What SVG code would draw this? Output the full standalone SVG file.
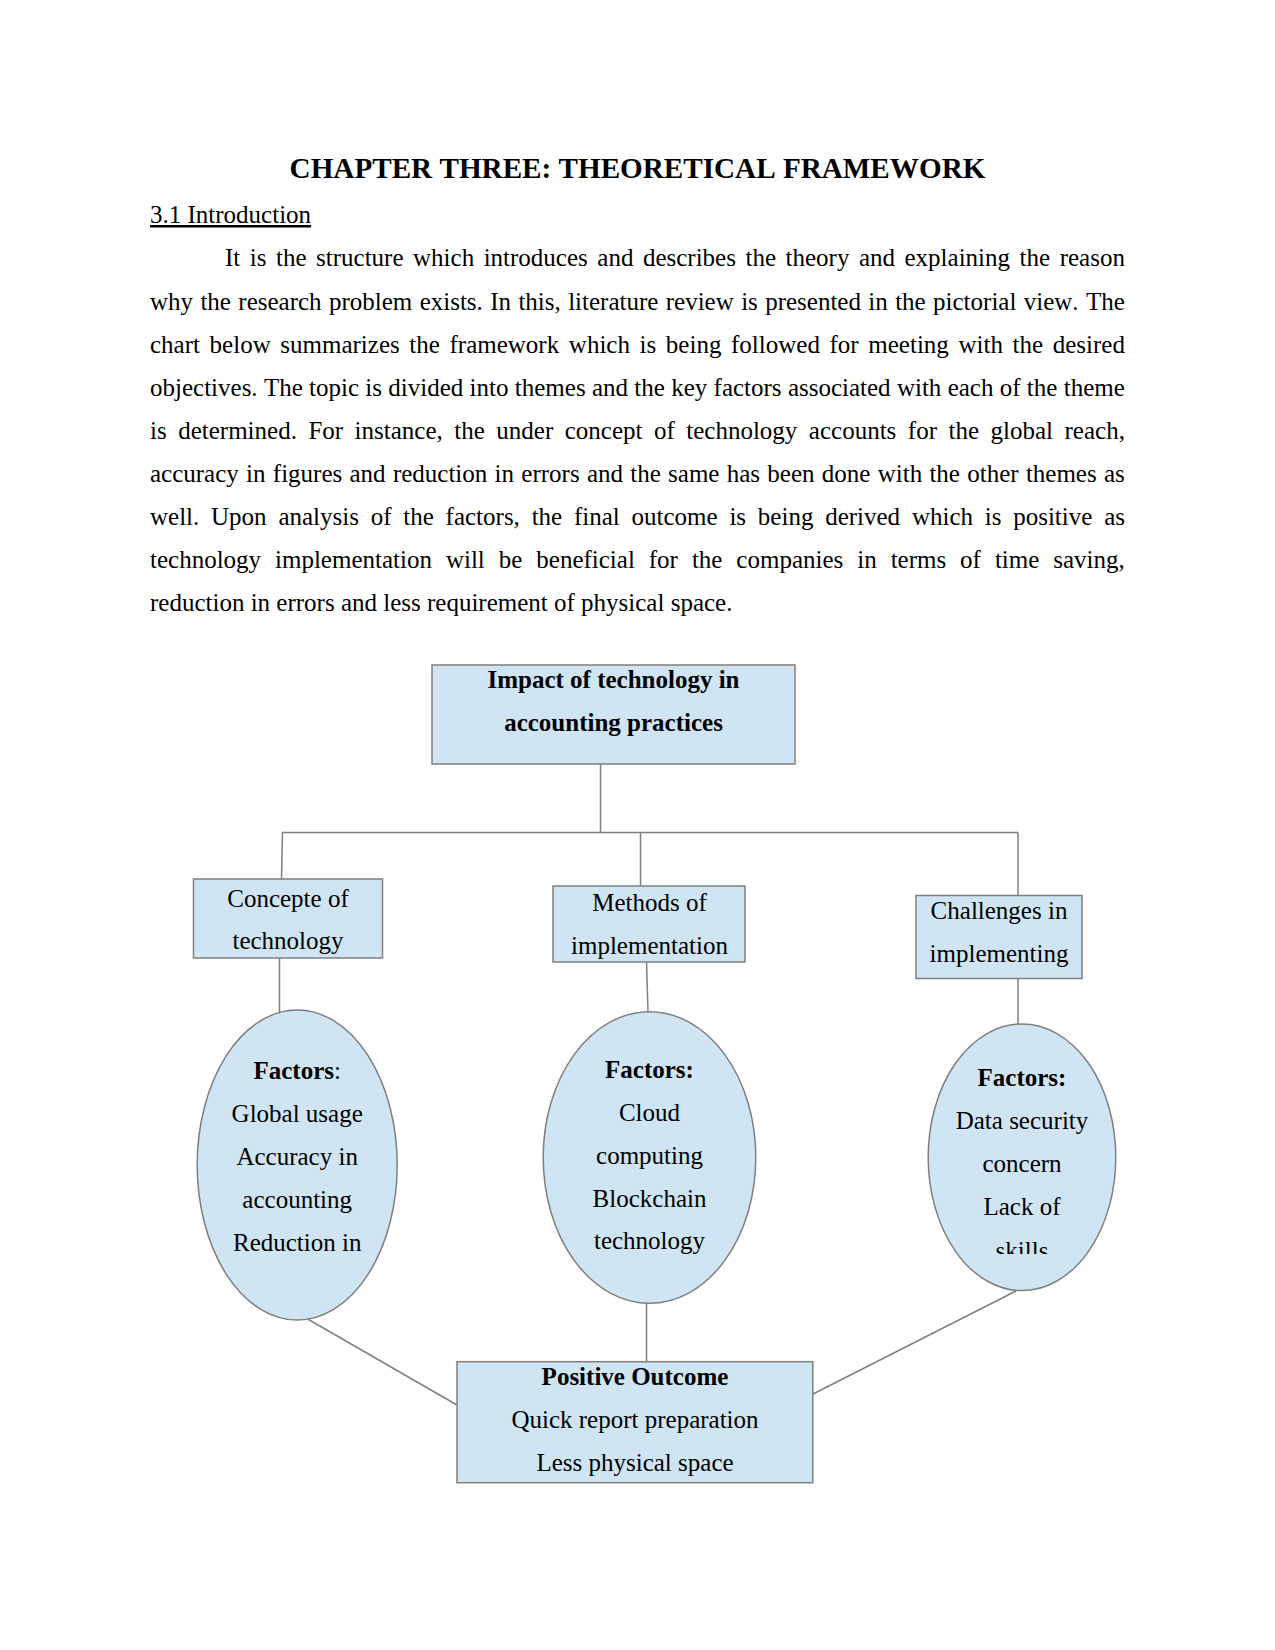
<svg xmlns="http://www.w3.org/2000/svg" width="1275" height="1650" viewBox="0 0 1275 1650">
<style>
text{font-family:"Liberation Serif","Times New Roman",serif;fill:#000;font-kerning:none}
.body{font-size:25px}
.t{font-size:25px;text-anchor:middle}
.b{font-weight:bold}
.node{fill:#cfe5f3;stroke:#7f7f7f;stroke-width:1.5}
.conn line,.conn path{stroke:#7f7f7f;stroke-width:1.5;fill:none}
</style>
<defs>
<clipPath id="clip3"><rect x="900" y="1000" width="240" height="254"/></clipPath>
</defs>
<rect width="1275" height="1650" fill="#fff"/>
<g id="heading">
<text x="637.5" y="178" style="font-size:29.17px;font-weight:bold;text-anchor:middle">CHAPTER THREE: THEORETICAL FRAMEWORK</text>
<text x="150" y="223" class="body" text-decoration="underline">3.1 Introduction</text>
</g>
<g id="paragraph" class="body">
<text x="225" y="266" class="body" word-spacing="3.27">It is the structure which introduces and describes the theory and explaining the reason</text>
<text x="150" y="310" class="body" word-spacing="1.12">why the research problem exists. In this, literature review is presented in the pictorial view. The</text>
<text x="150" y="353" class="body" word-spacing="3.38">chart below summarizes the framework which is being followed for meeting with the desired</text>
<text x="150" y="396" class="body" word-spacing="0.05">objectives. The topic is divided into themes and the key factors associated with each of the theme</text>
<text x="150" y="439" class="body" word-spacing="5.25">is determined. For instance, the under concept of technology accounts for the global reach,</text>
<text x="150" y="482" class="body" word-spacing="1.03">accuracy in figures and reduction in errors and the same has been done with the other themes as</text>
<text x="150" y="525" class="body" word-spacing="5.52">well. Upon analysis of the factors, the final outcome is being derived which is positive as</text>
<text x="150" y="568" class="body" word-spacing="7.7">technology implementation will be beneficial for the companies in terms of time saving,</text>
<text x="150" y="611" class="body">reduction in errors and less requirement of physical space.</text>
</g>
<g id="connectors" class="conn">
<line x1="600.5" y1="764" x2="600.5" y2="832.5"/>
<line x1="282" y1="832.5" x2="1018" y2="832.5"/>
<line x1="282.5" y1="832.5" x2="281.5" y2="879"/>
<line x1="640.5" y1="832.5" x2="640.5" y2="886"/>
<line x1="1018" y1="832.5" x2="1018" y2="895"/>
<line x1="279.5" y1="958" x2="279.5" y2="1013"/>
<line x1="646.5" y1="961.5" x2="648" y2="1012"/>
<line x1="1018" y1="978" x2="1018" y2="1024"/>
<line x1="308.5" y1="1319.5" x2="457" y2="1405"/>
<line x1="646.5" y1="1303" x2="646.5" y2="1362"/>
<line x1="1016" y1="1291" x2="813" y2="1394"/>
</g>
<g id="node-impact">
<rect class="node" x="432" y="665" width="363" height="99"/>
<text class="t b" x="613.5" y="688">Impact of technology in</text>
<text class="t b" x="613.5" y="731">accounting practices</text>
</g>
<g id="node-concept">
<rect class="node" x="193.5" y="879" width="189" height="79"/>
<text class="t" x="288" y="907">Concepte of</text>
<text class="t" x="288" y="949">technology</text>
</g>
<g id="node-methods">
<rect class="node" x="553" y="886" width="192" height="76"/>
<text class="t" x="649.5" y="911">Methods of</text>
<text class="t" x="649.5" y="954">implementation</text>
</g>
<g id="node-challenges">
<rect class="node" x="916" y="895.5" width="166" height="83"/>
<text class="t" x="999" y="918.5">Challenges in</text>
<text class="t" x="999" y="961.5">implementing</text>
</g>
<g id="node-factors1">
<ellipse class="node" cx="297.2" cy="1165" rx="100" ry="155"/>
<text class="t" x="297.2" y="1079"><tspan class="b">Factors</tspan>:</text>
<text class="t" x="297.2" y="1122">Global usage</text>
<text class="t" x="297.2" y="1165">Accuracy in</text>
<text class="t" x="297.2" y="1208">accounting</text>
<text class="t" x="297.2" y="1251">Reduction in</text>
</g>
<g id="node-factors2">
<ellipse class="node" cx="649.5" cy="1157.5" rx="106.3" ry="145.8"/>
<text class="t b" x="649.5" y="1078">Factors:</text>
<text class="t" x="649.5" y="1121">Cloud</text>
<text class="t" x="649.5" y="1164">computing</text>
<text class="t" x="649.5" y="1207">Blockchain</text>
<text class="t" x="649.5" y="1249">technology</text>
</g>
<g id="node-factors3">
<ellipse class="node" cx="1022" cy="1157.3" rx="93.8" ry="133.3"/>
<text class="t b" x="1022" y="1086">Factors:</text>
<text class="t" x="1022" y="1129">Data security</text>
<text class="t" x="1022" y="1172">concern</text>
<text class="t" x="1022" y="1215">Lack of</text>
<text class="t" x="1022" y="1259" clip-path="url(#clip3)">skills</text>
</g>
<g id="node-outcome">
<rect class="node" x="457" y="1361.7" width="355.8" height="121"/>
<text class="t b" x="635" y="1385">Positive Outcome</text>
<text class="t" x="635" y="1428">Quick report preparation</text>
<text class="t" x="635" y="1471">Less physical space</text>
</g>
</svg>
